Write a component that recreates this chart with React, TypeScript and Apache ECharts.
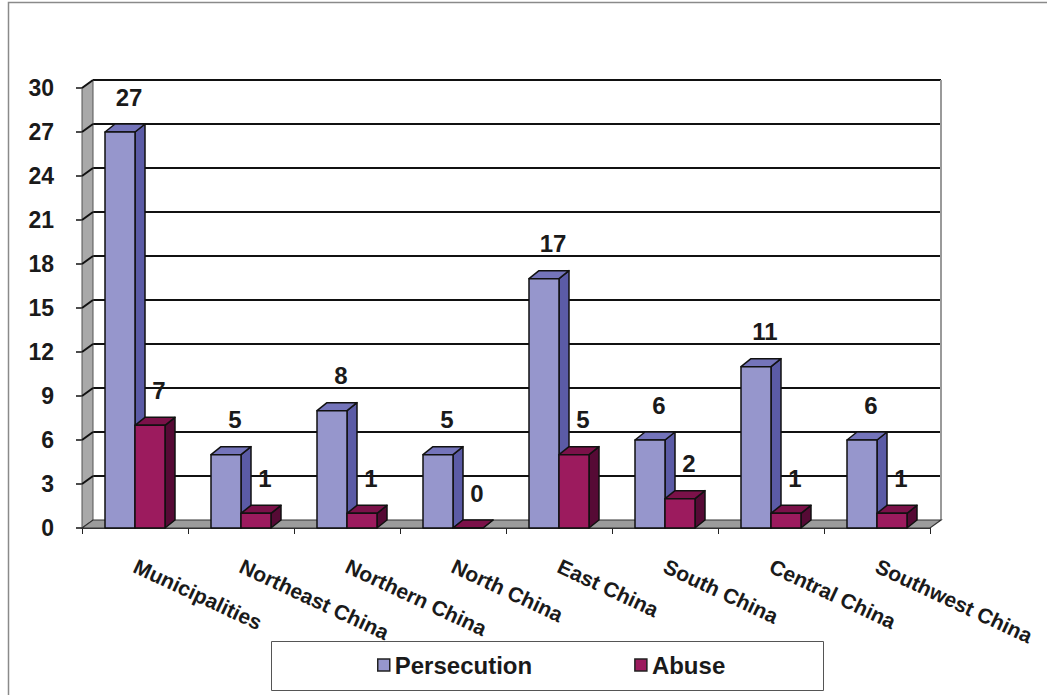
import { useEffect, useRef } from "react";
import * as echarts from "echarts";

// Cases by region
const categories = [
  "Municipalities",
  "Northeast China",
  "Northern China",
  "North China",
  "East China",
  "South China",
  "Central China",
  "Southwest China",
];
const persecution = [27, 5, 8, 5, 17, 6, 11, 6];
const abuse = [7, 1, 1, 0, 5, 2, 1, 1];
const yTicks = [0, 3, 6, 9, 12, 15, 18, 21, 24, 27, 30];

const FONT = '"Liberation Sans", Arial, sans-serif';

// depth offset of the back wall and of each bar (pseudo 3D)
const WALL_DEPTH: [number, number] = [11, -8];
const BAR_DEPTH: [number, number] = [10, -8];
const BAR_RATIO = 0.283;

const PALETTE = {
  persecution: { front: "#9696CC", top: "#7474BA", side: "#5B5BA6" },
  abuse: { front: "#9C1B5E", top: "#7B1149", side: "#560A35" },
};

function frameRenderItem(params: any, api: any) {
  const cs = params.coordSys;
  const x0 = cs.x;
  const y0 = cs.y;
  const x1 = cs.x + cs.width;
  const y1 = cs.y + cs.height;
  const [dx, dy] = WALL_DEPTH;
  const children: any[] = [];

  // horizontal gridlines on the back wall
  yTicks.forEach((t) => {
    if (t === 0) return;
    const y = api.coord([0, t])[1] + dy;
    children.push({
      type: "line",
      shape: { x1: x0 + dx, y1: y, x2: x1 + dx, y2: y },
      style: { stroke: "#111", lineWidth: 2 },
    });
  });
  // right edge of the back wall
  children.push({
    type: "line",
    shape: { x1: x1 + dx, y1: y0 + dy, x2: x1 + dx, y2: y1 + dy },
    style: { stroke: "#9a9a9a", lineWidth: 2 },
  });
  // left side wall
  children.push({
    type: "polygon",
    shape: {
      points: [
        [x0, y0],
        [x0 + dx, y0 + dy],
        [x0 + dx, y1 + dy],
        [x0, y1],
      ],
    },
    style: { fill: "#A9A9A9", stroke: "#555", lineWidth: 1 },
  });
  // gridlines across the side wall
  yTicks.forEach((t) => {
    if (t === 0) return;
    const y = api.coord([0, t])[1];
    children.push({
      type: "line",
      shape: { x1: x0, y1: y, x2: x0 + dx, y2: y + dy },
      style: { stroke: "#111", lineWidth: 2 },
    });
  });
  // floor
  children.push({
    type: "polygon",
    shape: {
      points: [
        [x0, y1],
        [x0 + dx, y1 + dy],
        [x1 + dx, y1 + dy],
        [x1, y1],
      ],
    },
    style: { fill: "#9C9C9C", stroke: "#333", lineWidth: 1.2 },
  });
  return { type: "group", children };
}

function makeBarRenderer(which: "persecution" | "abuse") {
  const colors = PALETTE[which];
  return (params: any, api: any) => {
    const idx = api.value(0);
    const v = api.value(1);
    const top = api.coord([idx, v]);
    const base = api.coord([idx, 0]);
    const band = api.size([1, 0])[0];
    const w = band * BAR_RATIO;
    const xl = which === "persecution" ? top[0] - w : top[0];
    const xr = xl + w;
    const yt = top[1];
    const yb = base[1];
    const [dx, dy] = BAR_DEPTH;
    const stroke = { stroke: "#111", lineWidth: 1.5, lineJoin: "round" };
    return {
      type: "group",
      children: [
        {
          type: "polygon",
          shape: { points: [[xr, yt], [xr + dx, yt + dy], [xr + dx, yb + dy], [xr, yb]] },
          style: { fill: colors.side, ...stroke },
        },
        {
          type: "polygon",
          shape: { points: [[xl, yt], [xl + dx, yt + dy], [xr + dx, yt + dy], [xr, yt]] },
          style: { fill: colors.top, ...stroke },
        },
        {
          type: "rect",
          shape: { x: xl, y: yt, width: w, height: yb - yt },
          style: { fill: colors.front, ...stroke },
        },
        {
          type: "text",
          style: {
            text: String(v),
            x: xl + w / 2 + 9,
            y: yt - 35,
            align: "center",
            verticalAlign: "middle",
            fill: "#1a1a1a",
            fontSize: 24,
            fontWeight: "bold",
            fontFamily: FONT,
          },
        },
      ],
    };
  };
}

export default function App() {
  const ref = useRef<HTMLDivElement>(null);

  useEffect(() => {
    if (!ref.current) return;
    const chart = echarts.init(ref.current, undefined, { renderer: "svg" });
    chart.setOption({
      animation: false,
      backgroundColor: "#ffffff",
      textStyle: { fontFamily: FONT },
      graphic: [
        {
          type: "rect",
          z: 0,
          silent: true,
          shape: { x: 8.5, y: 2.5, width: 1200, height: 900 },
          style: { fill: "none", stroke: "#8a8a8a", lineWidth: 1.5 },
        },
        {
          type: "rect",
          z: 1,
          silent: true,
          shape: { x: 271.5, y: 641.5, width: 552, height: 49 },
          style: { fill: "#ffffff", stroke: "#555", lineWidth: 1 },
        },
      ],
      legend: {
        z: 10,
        left: 377,
        top: 652,
        padding: 0,
        itemWidth: 12,
        itemHeight: 12,
        itemGap: 102,
        icon: "rect",
        itemStyle: { borderColor: "#222", borderWidth: 1.5 },
        textStyle: {
          fontSize: 24,
          fontWeight: "bold",
          color: "#1a1a1a",
          lineHeight: 26,
          fontFamily: FONT,
        },
        data: ["Persecution", "Abuse"],
      },
      grid: { left: 82, top: 88, width: 848, height: 440, containLabel: false },
      xAxis: {
        type: "category",
        data: categories,
        boundaryGap: true,
        axisLine: { show: true, lineStyle: { color: "#333", width: 1 } },
        axisTick: { show: true, length: 6, lineStyle: { color: "#222", width: 1 } },
        axisLabel: {
          rotate: -25,
          margin: 37,
          fontSize: 21,
          fontWeight: "bold",
          color: "#1a1a1a",
          fontFamily: FONT,
          interval: 0,
        },
        splitLine: { show: false },
      },
      yAxis: {
        type: "value",
        min: 0,
        max: 30,
        interval: 3,
        axisLine: { show: true, lineStyle: { color: "#444", width: 1 } },
        axisTick: { show: true, length: 6, lineStyle: { color: "#111", width: 1.5 } },
        axisLabel: {
          margin: 28,
          fontSize: 23,
          fontWeight: "bold",
          color: "#1a1a1a",
          fontFamily: FONT,
        },
        splitLine: { show: false },
      },
      series: [
        {
          type: "custom",
          name: "frame",
          silent: true,
          z: 1,
          renderItem: frameRenderItem,
          data: [[0, 0]],
          encode: { x: 0, y: 1 },
        },
        {
          type: "custom",
          name: "Persecution",
          z: 2,
          itemStyle: { color: PALETTE.persecution.front },
          renderItem: makeBarRenderer("persecution"),
          data: persecution.map((v, i) => [i, v]),
          encode: { x: 0, y: 1 },
        },
        {
          type: "custom",
          name: "Abuse",
          z: 3,
          itemStyle: { color: PALETTE.abuse.front },
          renderItem: makeBarRenderer("abuse"),
          data: abuse.map((v, i) => [i, v]),
          encode: { x: 0, y: 1 },
        },
      ],
    });
    return () => chart.dispose();
  }, []);

  return (
    <div
      ref={ref}
      style={{ position: "absolute", left: 0, top: 0, width: 1047, height: 695 }}
    />
  );
}
